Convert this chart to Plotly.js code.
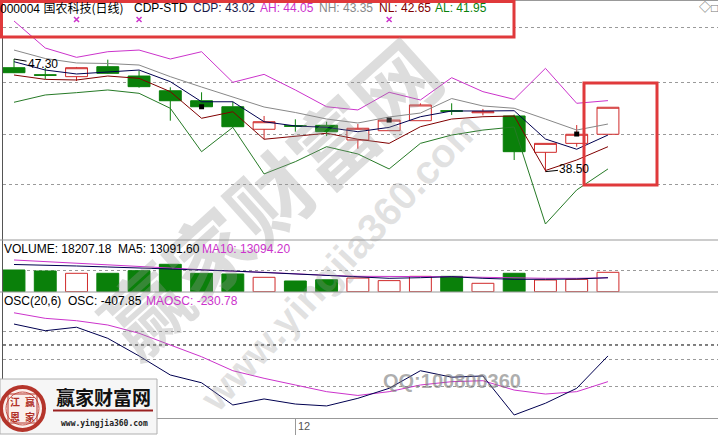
<!DOCTYPE html>
<html>
<head>
<meta charset="utf-8">
<script src="https://cdn.plot.ly/plotly-3.0.1.min.js"></script>
<style>html,body{margin:0;padding:0;background:#fff;}#chart{width:718px;height:435px;}</style>
</head>
<body>
<div id="chart"></div>
<script>
// ---------- data ----------
const days = [0,1,2,3,4,5,6,7,8,9,10,11,12,13,14,15,16,17,18,19];
const monthTickDay = [9];
const monthTickText = ['12'];

const openP  = [46.62,46.07,45.92,46.70,45.97,44.82,44.04,43.57,41.81,42.09,42.12,40.97,41.70,42.48,43.26,43.10,42.85,40.01,40.71,41.42];
const highP  = [47.30,46.60,46.68,47.25,46.39,45.09,44.70,43.96,42.85,42.59,42.40,42.22,42.60,43.84,43.84,43.40,42.95,40.71,42.14,43.53];
const lowP   = [46.20,45.74,45.58,46.15,45.06,42.48,43.50,41.96,41.03,41.62,41.28,40.29,41.70,42.48,42.93,42.90,39.41,38.50,40.45,41.42];
const closeP = [46.23,46.03,46.62,46.18,45.14,44.04,43.57,42.01,42.40,42.05,41.62,41.89,42.53,43.71,43.22,43.18,40.06,40.71,41.42,43.53];

const AH  = [50.27,48.16,47.43,47.87,48.00,47.30,47.87,45.48,46.10,44.88,43.57,43.32,44.70,44.10,45.84,44.75,44.15,46.57,43.84,44.05];
const NH  = [48.00,47.34,46.99,46.95,46.83,45.92,45.11,44.35,43.55,43.12,42.61,42.30,42.77,43.08,44.21,43.63,43.45,42.61,41.75,42.22];
const CDP = [47.09,46.44,46.13,46.31,46.44,45.53,43.96,43.96,42.40,42.07,41.96,41.62,41.96,42.79,43.24,43.24,43.26,41.05,40.25,41.36];
const NL  = [46.05,45.71,45.66,45.97,45.79,44.75,42.67,43.18,41.03,41.28,41.50,41.03,40.71,42.01,42.61,42.79,42.85,38.59,39.41,40.45];
const AL  = [43.92,44.49,44.67,44.88,44.62,43.45,40.06,41.96,38.32,39.28,40.45,39.88,38.71,40.71,41.36,41.75,41.99,34.41,37.07,38.71];

const signalDays = [6,12,18];
const signalPrice = [43.57,42.53,41.44];
const crossDays = [2,4,12];
const crossPrice = [50.38,50.38,50.38];

const volume = [20370,19430,17270,17270,19710,25720,17270,16610,13510,10040,11200,12800,10400,14400,14400,7880,17300,10980,11600,18207.18];
const volMA5  = [25530,25060,24120,23180,22240,21770,20840,19430,18020,16610,14730,13330,12580,13140,14080,12580,11640,11640,11920,13091.60];
const volMA10 = [29750,28160,26650,25060,23460,22240,20370,19150,18210,16610,15390,14450,14550,14080,14080,13510,12860,12580,12580,13094.20];

const osc   = [132,90,112,42,-69,-189,-238,-378,-340,-372,-384,-336,-273,-162,-203,-195,-441,-367,-273,-69];
const maosc = [203,168,153,126,74,0,-74,-162,-210,-252,-294,-318,-294,-252,-231,-225,-284,-309,-294,-230.78];

// ---------- styling ----------
const RED = '#d02a2a', GREEN = '#0a800a', MAG = '#cc33cc', NAVY = '#000050', GRAY = '#888888', DRED = '#800000', LGREEN = '#267a26';
const FONT = 'Liberation Sans, Arial, Noto Sans CJK SC, sans-serif';
const CJK = 'Noto Sans CJK SC, sans-serif';

const up = days.map((d,i)=> closeP[i] >= openP[i]);

const traces = [
  {type:'candlestick', x:days, open:openP, high:highP, low:lowP, close:closeP, xaxis:'x', yaxis:'y',
   increasing:{line:{color:RED,width:1}, fillcolor:'#ffffff'},
   decreasing:{line:{color:GREEN,width:1}, fillcolor:GREEN},
   whiskerwidth:0, hoverinfo:'skip'},
  {type:'scatter', mode:'lines', x:days, y:AH,  line:{color:MAG, width:1}, yaxis:'y', hoverinfo:'skip'},
  {type:'scatter', mode:'lines', x:days, y:NH,  line:{color:GRAY, width:1}, yaxis:'y', hoverinfo:'skip'},
  {type:'scatter', mode:'lines', x:days, y:CDP, line:{color:NAVY, width:1}, yaxis:'y', hoverinfo:'skip'},
  {type:'scatter', mode:'lines', x:days, y:NL,  line:{color:DRED, width:1}, yaxis:'y', hoverinfo:'skip'},
  {type:'scatter', mode:'lines', x:days, y:AL,  line:{color:LGREEN, width:1}, yaxis:'y', hoverinfo:'skip'},
  {type:'scatter', mode:'markers', x:signalDays, y:signalPrice, marker:{symbol:'square', size:5, color:'#000'}, yaxis:'y', hoverinfo:'skip'},
  {type:'scatter', mode:'markers', x:crossDays, y:crossPrice, marker:{symbol:'x-thin', size:5, line:{color:MAG,width:1.5}}, yaxis:'y', hoverinfo:'skip'},
  {type:'bar', x:days, y:volume, yaxis:'y2', width:0.7,
   marker:{color: up.map(u=> u ? '#ffffff' : GREEN), line:{color: up.map(u=> u ? RED : GREEN), width:1}}, hoverinfo:'skip'},
  {type:'scatter', mode:'lines', x:days, y:volMA10, line:{color:MAG, width:1}, yaxis:'y2', hoverinfo:'skip'},
  {type:'scatter', mode:'lines', x:days, y:volMA5,  line:{color:NAVY, width:1}, yaxis:'y2', hoverinfo:'skip'},
  {type:'scatter', mode:'lines', x:days, y:maosc, line:{color:MAG, width:1}, yaxis:'y3', hoverinfo:'skip'},
  {type:'scatter', mode:'lines', x:days, y:osc,   line:{color:NAVY, width:1}, yaxis:'y3', hoverinfo:'skip'}
];

// pixel helpers for decorations (plot area: x 3..718, y 0..418)
const X = px => (px - 3) / 715;
const Y = py => (418 - py) / 418;

function txt(px, py, text, color, size, opts) {
  return Object.assign({xref:'paper', yref:'paper', x:X(px), y:Y(py), text:text, showarrow:false,
    xanchor:'left', yanchor:'middle', font:{family:FONT, size:size||12, color:color||'#000'}}, opts||{});
}
function ctxt(px, py, text, family, size, color, angle) {
  return {xref:'paper', yref:'paper', x:X(px), y:Y(py), text:text, showarrow:false,
    xanchor:'center', yanchor:'middle', textangle:angle||0, font:{family:family, size:size, color:color}};
}

const annotations = [
  // watermarks (under the header texts)
  ctxt(268, 195, '<b>赢家财富网</b>', CJK, 84, 'rgba(150,150,150,0.32)', -42),
  ctxt(340, 262, '<b>www.yingjia360.com</b>', FONT, 40, 'rgba(150,150,150,0.28)', -47),
  ctxt(452, 381, '<b>QQ:100800360</b>', FONT, 20, 'rgba(120,120,120,0.6)'),
  txt(-2, 8, '000004 <span style="font-family:Noto Sans CJK SC">国农科技(日线)</span>', '#000', 12),
  txt(132, 8, 'CDP-STD', '#000', 12),
  txt(191, 8, 'CDP: 43.02', '#1a1a4a', 12),
  txt(258, 8, 'AH: 44.05', MAG, 12),
  txt(317, 8, 'NH: 43.35', '#888', 12),
  txt(377, 8, 'NL: 42.65', DRED, 12),
  txt(433, 8, 'AL: 41.95', GREEN, 12),
  txt(697, 8, '◇□', '#777', 12),
  txt(2, 249, 'VOLUME: 18207.18  MA5: 13091.60', '#000', 12),
  txt(200, 249, 'MA10: 13094.20', MAG, 12),
  txt(2, 300.5, 'OSC(20,6)  OSC: -407.85', '#000', 12),
  txt(144, 300.5, 'MAOSC: -230.78', MAG, 12),
  // price extremes
  {xref:'x', yref:'y', x:days[0], y:highP[0], text:'47.30', showarrow:true, arrowhead:0, arrowwidth:1, arrowcolor:'#000',
   ax:29, ay:5, standoff:0, font:{family:FONT, size:12, color:'#000'}},
  {xref:'x', yref:'y', x:days[17], y:lowP[17], text:'38.50', showarrow:true, arrowhead:0, arrowwidth:1, arrowcolor:'#000',
   ax:29, ay:-3, standoff:0, font:{family:FONT, size:12, color:'#000'}},
  // month label
  {xref:'x', yref:'paper', x:monthTickDay[0], y:Y(426.5), text:monthTickText[0], showarrow:false, xanchor:'left', yanchor:'middle', xshift:1,
   font:{family:FONT, size:11, color:'#555'}},
  // logo texts
  ctxt(103, 396, '<b>赢家财富网</b>', CJK, 19, '#111'),
  ctxt(104, 423, '<b>www.yingjia360.com</b>', 'DejaVu Sans Mono, monospace', 8, '#222'),
  ctxt(15, 401, '<b>江</b>', CJK, 10, '#b03028'),
  ctxt(30, 401, '<b>赢</b>', CJK, 10, '#b03028'),
  ctxt(15, 416, '<b>恩</b>', CJK, 10, '#b03028'),
  ctxt(30, 416, '<b>家</b>', CJK, 10, '#b03028')
];

function rectPx(x0,y0,x1,y1,line,fill,layer){
  return {type:'rect', xref:'paper', yref:'paper', x0:X(x0), x1:X(x1), y0:Y(y0), y1:Y(y1),
    line:line, fillcolor:fill||'rgba(0,0,0,0)', layer:layer||'above'};
}

const shapes = [
  // panel separators and top border
  {type:'line', xref:'paper', yref:'paper', x0:X(0), x1:1, y0:Y(0.5), y1:Y(0.5), line:{color:'#999', width:1}},
  {type:'line', xref:'paper', yref:'paper', x0:X(0), x1:1, y0:Y(240), y1:Y(240), line:{color:'#999', width:1}},
  {type:'line', xref:'paper', yref:'paper', x0:X(0), x1:1, y0:Y(292), y1:Y(292), line:{color:'#999', width:1}},
  // OSC zero line
  {type:'line', xref:'paper', yref:'y3', x0:0, x1:1, y0:0, y1:0, line:{color:'#000', width:1, dash:'dot'}, layer:'below'},
  // red highlight boxes
  rectPx(1.5, 1.5, 514, 37, {color:'#e0393b', width:3}),
  rectPx(584, 83, 657, 185, {color:'#e0393b', width:3}),
  // logo
  rectPx(0, 379, 157, 434, {color:'#b0b0b0', width:1}, '#f6f6f6'),
  {type:'line', xref:'paper', yref:'paper', x0:X(53), x1:X(153), y0:Y(410.5), y1:Y(410.5), line:{color:'#9a2020', width:2}},
  {type:'circle', xref:'paper', yref:'paper', x0:X(1), x1:X(44), y0:Y(387), y1:Y(430), line:{color:'#b5352b', width:4}, fillcolor:'#fbefec'},
  {type:'circle', xref:'paper', yref:'paper', x0:X(6), x1:X(39), y0:Y(392), y1:Y(425), line:{color:'#c9544a', width:1}, fillcolor:'rgba(0,0,0,0)'},
  rectPx(8, 394, 37, 423, {color:'#b5352b', width:1})
];

const layout = {
  width:718, height:435,
  margin:{l:3, r:0, t:0, b:17, pad:0},
  paper_bgcolor:'#ffffff', plot_bgcolor:'#ffffff',
  showlegend:false, hovermode:false, dragmode:false,
  boxgap:0.3, boxgroupgap:0, bargap:0.3,
  font:{family:FONT, size:12, color:'#000'},
  xaxis:{domain:[0,1], range:[-0.352,22.52], anchor:'y3', showgrid:false, zeroline:false,
    showline:true, linecolor:'#999', linewidth:1, tickvals:monthTickDay, ticks:'outside', ticklen:17, tickcolor:'#999',
    showticklabels:false, rangeslider:{visible:false}, fixedrange:true},
  yaxis:{domain:[0.42584,1], range:[33.16,51.91], showticklabels:false, tickvals:[49.80,45.43,41.44,37.46],
    showgrid:true, gridcolor:'#9a9a9a', griddash:'dot', gridwidth:1, zeroline:false, showline:true, linecolor:'#555', ticks:'', fixedrange:true},
  yaxis2:{domain:[0.30144,0.42584], range:[-280,48520], showticklabels:false, tickvals:[19800],
    showgrid:true, gridcolor:'#9a9a9a', griddash:'dot', zeroline:false, showline:true, linecolor:'#555', ticks:'', fixedrange:true},
  yaxis3:{domain:[0,0.30144], range:[-460,334], showticklabels:false, tickvals:[88,-90,-263],
    showgrid:true, gridcolor:'#9a9a9a', griddash:'dot', zeroline:false, showline:true, linecolor:'#555', ticks:'', fixedrange:true},
  annotations:annotations,
  shapes:shapes
};

Plotly.newPlot('chart', traces, layout, {staticPlot:true, displayModeBar:false});
</script>
</body>
</html>
